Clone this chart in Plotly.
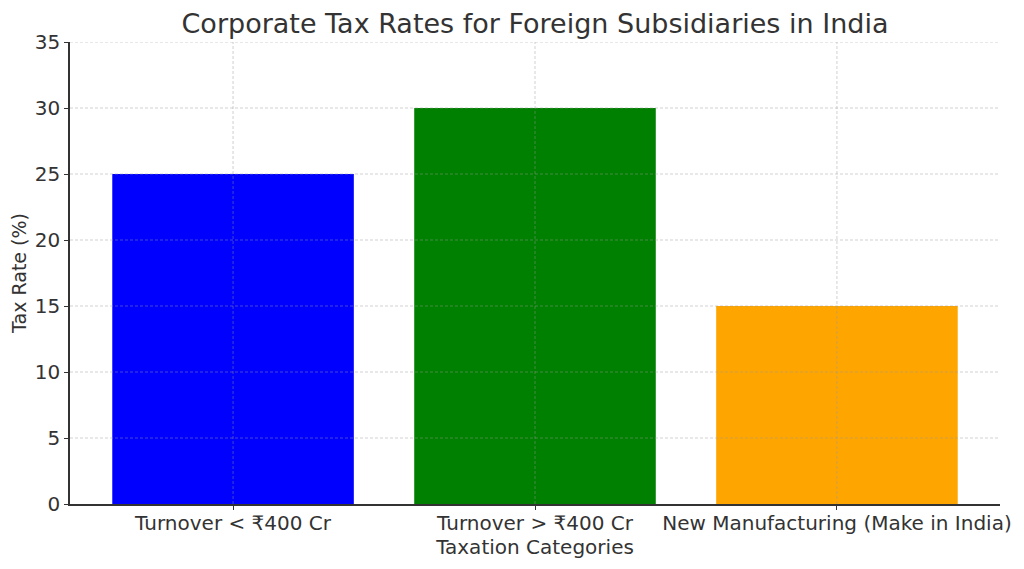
import plotly.graph_objects as go

# Chart data
categories = ["Turnover < ₹400 Cr", "Turnover > ₹400 Cr", "New Manufacturing (Make in India)"]
tax_rates = [25, 30, 15]
bar_colors = ["blue", "green", "orange"]
y_ticks = [0, 5, 10, 15, 20, 25, 30, 35]

text_color = "#333333"
grid_color = "rgba(150,150,150,0.45)"
font_family = "DejaVu Sans"

fig = go.Figure()

fig.add_trace(go.Bar(
    x=categories,
    y=tax_rates,
    marker=dict(color=bar_colors, line=dict(width=0)),
    width=0.8,
    hoverinfo="x+y"
))

# grid lines drawn over the bars, like the matplotlib original
grid = dict(color=grid_color, width=1, dash="3px,2px")
for t in y_ticks[1:]:
    fig.add_shape(type="line", xref="paper", yref="y", x0=0, x1=1, y0=t, y1=t,
                  line=grid, layer="above")
for c in categories:
    fig.add_shape(type="line", xref="x", yref="paper", x0=c, x1=c, y0=0, y1=1,
                  line=grid, layer="above")

fig.update_layout(
    width=1024,
    height=569,
    paper_bgcolor="white",
    plot_bgcolor="white",
    margin=dict(l=62, r=32, t=34, b=73),
    font=dict(family=font_family, size=20, color=text_color),
    title=dict(
        text="Corporate Tax Rates for Foreign Subsidiaries in India",
        xref="paper", x=0.5, xanchor="center",
        y=0.972, yanchor="middle",
        font=dict(size=27, color=text_color)
    ),
    showlegend=False,
    bargap=0.2
)

fig.update_xaxes(
    title=dict(text="Taxation Categories", standoff=2, font=dict(size=20)),
    range=[-0.54, 2.54],
    showline=True, linecolor=text_color, linewidth=1.5,
    ticks="outside", ticklen=4, tickcolor=text_color,
    ticklabelstandoff=-4,
    showgrid=False,
    automargin=False,
    tickfont=dict(size=20)
)

fig.update_yaxes(
    title=dict(text="Tax Rate (%)", standoff=4, font=dict(size=19)),
    range=[0, 35],
    tickvals=y_ticks,
    showline=True, linecolor=text_color, linewidth=1.5,
    ticks="outside", ticklen=4, tickcolor=text_color,
    showgrid=False,
    zeroline=False,
    automargin=False,
    tickfont=dict(size=20)
)

fig.write_html("out.html")
